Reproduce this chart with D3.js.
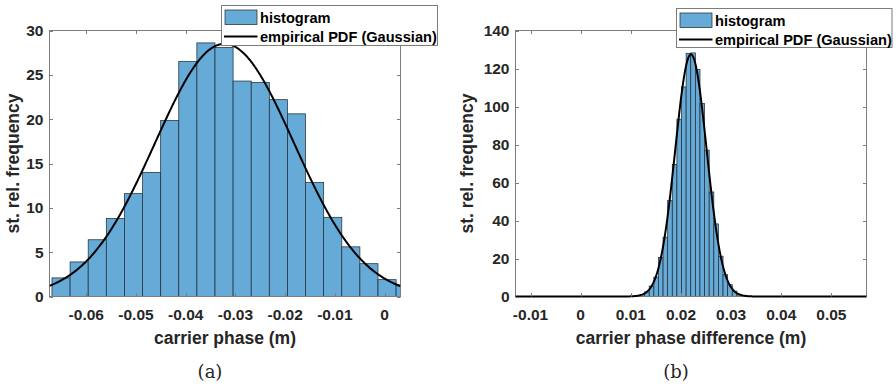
<!DOCTYPE html>
<html>
<head>
<meta charset="utf-8">
<script src="https://cdn.jsdelivr.net/npm/d3@7"></script>
<style>
  body { margin: 0; background: #fff; }
  svg { display: block; }
</style>
</head>
<body>
<svg id="chart" width="896" height="386"></svg>
<script>
// ---- panel (a): carrier phase ----
const phaseBinStart = -0.0669;
const phaseBinWidth = 0.003643;
const phaseDensity = [2.1, 3.9, 6.4, 8.8, 11.6, 14.0, 19.85, 26.5, 28.6, 28.1,
                      24.3, 24.15, 22.2, 20.6, 12.85, 8.93, 5.6, 3.7, 1.9, 1.3];
const phaseMean = -0.0322;
const phaseSigma = 0.0140;
const phaseXDomain = [-0.0674, 0.0032];
const phaseYDomain = [0, 30];
const phaseXTicks = [-0.06, -0.05, -0.04, -0.03, -0.02, -0.01, 0];
const phaseYTicks = [0, 5, 10, 15, 20, 25, 30];

// ---- panel (b): carrier phase difference ----
const diffBinStart = 0.01183;
const diffBinWidth = 0.00092;
const diffDensity = [1.0, 2.4, 5.5, 10.2, 20.5, 31.2, 50.5, 69.5, 93.3, 110.3, 128.0,
                     128.2, 119.5, 101.6, 77.0, 55.0, 38.2, 21.2, 11.5, 6.2, 2.8, 1.2, 0.4];
const diffMean = 0.02199;
const diffSigma = 0.00313;
const diffXDomain = [-0.013, 0.057];
const diffYDomain = [0, 140];
const diffXTicks = [-0.01, 0, 0.01, 0.02, 0.03, 0.04, 0.05];
const diffYTicks = [0, 20, 40, 60, 80, 100, 120, 140];

const legendLabels = ["histogram", "empirical PDF (Gaussian)"];

const BAR_FILL = "rgb(102,170,215)";
const BAR_EDGE = "#22303a";
const AXIS_COLOR = "#7d7d7d";
const TEXT_COLOR = "#262626";
const FONT = "'Liberation Sans', Arial, Helvetica, sans-serif";

const svg = d3.select("#chart");

const fmt = v => (Math.abs(v) < 1e-12 ? "0" : String(+v.toFixed(3)));

function gaussPdf(x, mu, s) {
  return Math.exp(-0.5 * ((x - mu) / s) ** 2) / (s * Math.sqrt(2 * Math.PI));
}

function drawPanel(p) {
  const x = d3.scaleLinear().domain(p.xDomain).range([p.left, p.right]);
  const y = d3.scaleLinear().domain(p.yDomain).range([p.bottom, p.top]);
  const g = svg.append("g");

  // bars are clipped to the axes box; the density line may overhang the bottom edge by its width
  const barClip = "clip-bars-" + p.id;
  g.append("clipPath").attr("id", barClip)
    .append("rect")
    .attr("x", p.left).attr("y", p.top)
    .attr("width", p.right - p.left).attr("height", p.bottom - p.top);
  const lineClip = "clip-line-" + p.id;
  g.append("clipPath").attr("id", lineClip)
    .append("rect")
    .attr("x", p.left).attr("y", p.top)
    .attr("width", p.right - p.left).attr("height", p.bottom - p.top + 1.5);

  const bins = p.density.map((d, i) => ({
    x0: p.binStart + i * p.binWidth,
    x1: p.binStart + (i + 1) * p.binWidth,
    v: d
  }));

  g.append("g").attr("clip-path", `url(#${barClip})`)
    .selectAll("rect.bar").data(bins).join("rect")
    .attr("class", "bar")
    .attr("x", d => x(d.x0))
    .attr("width", d => x(d.x1) - x(d.x0))
    .attr("y", d => y(d.v))
    .attr("height", d => y(0) - y(d.v))
    .attr("fill", BAR_FILL)
    .attr("stroke", BAR_EDGE)
    .attr("stroke-width", 0.75);

  // box
  g.append("rect")
    .attr("x", p.left).attr("y", p.top)
    .attr("width", p.right - p.left).attr("height", p.bottom - p.top)
    .attr("fill", "none").attr("stroke", AXIS_COLOR).attr("stroke-width", 1);

  // fitted Gaussian density
  const xs = d3.range(0, 601).map(i => p.xDomain[0] + (p.xDomain[1] - p.xDomain[0]) * i / 600);
  const line = d3.line().x(d => x(d)).y(d => y(gaussPdf(d, p.mean, p.sigma)));
  g.append("g").attr("clip-path", `url(#${lineClip})`)
    .append("path").datum(xs)
    .attr("d", line)
    .attr("fill", "none")
    .attr("stroke", "#000")
    .attr("stroke-width", 2);

  const tl = 3.5;
  // x ticks (bottom and top, inward)
  p.xTicks.forEach(t => {
    const xp = Math.round(x(t)) + 0.5;
    g.append("line").attr("x1", xp).attr("x2", xp).attr("y1", p.bottom).attr("y2", p.bottom - tl)
      .attr("stroke", AXIS_COLOR);
    g.append("line").attr("x1", xp).attr("x2", xp).attr("y1", p.top).attr("y2", p.top + tl)
      .attr("stroke", AXIS_COLOR);
    g.append("text").attr("x", x(t)).attr("y", p.bottom + 23)
      .attr("text-anchor", "middle")
      .attr("font-family", FONT).attr("font-weight", "bold").attr("font-size", 15.5)
      .attr("fill", TEXT_COLOR).text(fmt(t));
  });
  // y ticks (left and right, inward)
  p.yTicks.forEach(t => {
    const yp = Math.round(y(t)) + 0.5;
    g.append("line").attr("x1", p.left).attr("x2", p.left + tl).attr("y1", yp).attr("y2", yp)
      .attr("stroke", AXIS_COLOR);
    g.append("line").attr("x1", p.right).attr("x2", p.right - tl).attr("y1", yp).attr("y2", yp)
      .attr("stroke", AXIS_COLOR);
    g.append("text").attr("x", p.left - 6).attr("y", y(t) + 5.5)
      .attr("text-anchor", "end")
      .attr("font-family", FONT).attr("font-weight", "bold").attr("font-size", 15.5)
      .attr("fill", TEXT_COLOR).text(fmt(t));
  });

  // axis titles
  g.append("text")
    .attr("x", (p.left + p.right) / 2).attr("y", p.bottom + 47)
    .attr("text-anchor", "middle")
    .attr("font-family", FONT).attr("font-weight", "bold").attr("font-size", 17.5)
    .attr("fill", TEXT_COLOR).text(p.xLabel);
  g.append("text")
    .attr("transform", `translate(${p.yLabelX},${(p.top + p.bottom) / 2}) rotate(-90)`)
    .attr("text-anchor", "middle")
    .attr("font-family", FONT).attr("font-weight", "bold").attr("font-size", 17.5)
    .attr("fill", TEXT_COLOR).text("st. rel. frequency");

  // sub-caption
  g.append("text")
    .attr("x", (p.left + p.right) / 2 - 15).attr("y", 378)
    .attr("text-anchor", "middle")
    .attr("font-family", "'DejaVu Serif', serif").attr("font-size", 18)
    .attr("fill", TEXT_COLOR).text(p.caption);

  // legend
  const L = p.legend;
  const lg = g.append("g");
  lg.append("rect").attr("x", L.x).attr("y", L.y).attr("width", L.w).attr("height", L.h)
    .attr("fill", "#fff").attr("stroke", AXIS_COLOR).attr("stroke-width", 1);
  lg.append("rect").attr("x", L.x + 3.5).attr("y", L.y + 4.5).attr("width", 32).attr("height", 14.5)
    .attr("fill", BAR_FILL).attr("stroke", BAR_EDGE).attr("stroke-width", 0.75);
  lg.append("line").attr("x1", L.x + 2.5).attr("x2", L.x + 36).attr("y1", L.y + 31).attr("y2", L.y + 31)
    .attr("stroke", "#000").attr("stroke-width", 2);
  lg.append("text").attr("x", L.x + 38.5).attr("y", L.y + 17)
    .attr("font-family", FONT).attr("font-weight", "bold").attr("font-size", 14.6)
    .attr("fill", "#000").text(legendLabels[0]);
  lg.append("text").attr("x", L.x + 38.5).attr("y", L.y + 36.5)
    .attr("font-family", FONT).attr("font-weight", "bold").attr("font-size", 14.6)
    .attr("fill", "#000").text(legendLabels[1]);
}

drawPanel({
  id: "a",
  left: 49.5, right: 400.5, top: 30.5, bottom: 296.5,
  xDomain: phaseXDomain, yDomain: phaseYDomain,
  xTicks: phaseXTicks, yTicks: phaseYTicks,
  binStart: phaseBinStart, binWidth: phaseBinWidth, density: phaseDensity,
  mean: phaseMean, sigma: phaseSigma,
  xLabel: "carrier phase (m)", yLabelX: 19, caption: "(a)",
  legend: { x: 221.5, y: 5.5, w: 216, h: 40 }
});

drawPanel({
  id: "b",
  left: 515.5, right: 866.5, top: 30.5, bottom: 296.5,
  xDomain: diffXDomain, yDomain: diffYDomain,
  xTicks: diffXTicks, yTicks: diffYTicks,
  binStart: diffBinStart, binWidth: diffBinWidth, density: diffDensity,
  mean: diffMean, sigma: diffSigma,
  xLabel: "carrier phase difference (m)", yLabelX: 473, caption: "(b)",
  legend: { x: 676.5, y: 8.5, w: 215.5, h: 39 }
});
</script>
</body>
</html>
